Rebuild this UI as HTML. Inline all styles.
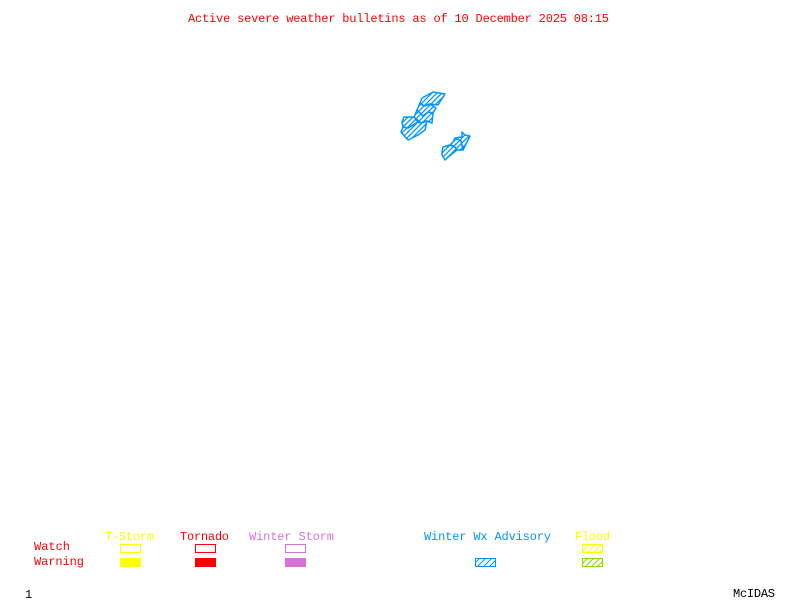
<!DOCTYPE html>
<html>
<head>
<meta charset="utf-8">
<style>
html,body{margin:0;padding:0;background:#fff;}
svg{display:block;}
text{font-family:"Liberation Mono",monospace;font-size:12px;}
</style>
</head>
<body>
<svg width="800" height="600" viewBox="0 0 800 600" xmlns="http://www.w3.org/2000/svg">
<defs>
<pattern id="hb" width="6" height="6" patternUnits="userSpaceOnUse"><path d="M-1 7L7 -1M-1 1L1 -1M5 7L7 5" stroke="#0096ff" stroke-width="1" fill="none"/></pattern>
<pattern id="hb2" width="5" height="5" patternUnits="userSpaceOnUse"><path d="M-1 6L6 -1M-1 1L1 -1M4 6L6 4" stroke="#0096ff" stroke-width="1.3" fill="none"/></pattern>
<pattern id="hy" width="6" height="6" patternUnits="userSpaceOnUse"><path d="M-1 7L7 -1M-1 1L1 -1M5 7L7 5" stroke="#ffff00" stroke-width="1" fill="none"/></pattern>
<pattern id="hg" width="6" height="6" patternUnits="userSpaceOnUse"><path d="M-1 7L7 -1M-1 1L1 -1M5 7L7 5" stroke="#7fdc00" stroke-width="1" fill="none"/></pattern>
</defs>
<rect width="800" height="600" fill="#fff"/>

<text x="188" y="22" fill="#ff0000" textLength="421" lengthAdjust="spacing">Active severe weather bulletins as of 10 December 2025 08:15</text>

<g fill="url(#hb2)" stroke="#0096ff" stroke-width="1.5" stroke-linejoin="round">
<path d="M422 98L433 92L445 94L438 105L430 104L424 106L420 103Z"/>
<path d="M417 110L420 103L424 106L430 104L436 108L433 113L428 112L423 116Z"/>
<path d="M414 117L417 110L423 116L428 112L433 113L432 123L427 121L421 123Z"/>
<path d="M404 117L414 117L418 122L413 125L408 128L403 127L402 122Z"/>
<path d="M403 127L408 128L413 125L418 122L421 123L427 121L425 130L418 135L408 140L401 132Z"/>
<path d="M442 155L442 152L443 147L450 145L455 147L457 150L448 157L445 160Z"/>
<path d="M450 145L453 142L455 138L461 141L463 150L457 150L454 146Z"/>
<path d="M455 138L462 137L462 132L465 135L470 136L467 142L463 150L461 141Z"/>
</g>

<text x="105" y="540" fill="#ffff00" textLength="49" lengthAdjust="spacing">T-Storm</text>
<text x="180" y="540" fill="#ff0000" textLength="49" lengthAdjust="spacing">Tornado</text>
<text x="249" y="540" fill="#da70d6" textLength="85" lengthAdjust="spacing">Winter Storm</text>
<text x="424" y="540" fill="#0096ff" textLength="127" lengthAdjust="spacing">Winter Wx Advisory</text>
<text x="575" y="540" fill="#ffff00" textLength="35" lengthAdjust="spacing">Flood</text>
<text x="34" y="550" fill="#ff0000" textLength="36" lengthAdjust="spacing">Watch</text>
<text x="34" y="565" fill="#ff0000" textLength="50" lengthAdjust="spacing">Warning</text>

<g shape-rendering="crispEdges">
<rect x="120.5" y="544.5" width="20" height="8" fill="none" stroke="#ffff00"/>
<rect x="195.5" y="544.5" width="20" height="8" fill="none" stroke="#ff0000"/>
<rect x="285.5" y="544.5" width="20" height="8" fill="none" stroke="#da70d6"/>
<rect x="120" y="558" width="21" height="9" fill="#ffff00"/>
<rect x="195" y="558" width="21" height="9" fill="#ff0000"/>
<rect x="285" y="558" width="21" height="9" fill="#da70d6"/>
</g>
<rect x="475.5" y="558.5" width="20" height="8" fill="url(#hb)" stroke="#0096ff"/>
<rect x="582.5" y="544.5" width="20" height="8" fill="url(#hy)" stroke="#ffff00"/>
<rect x="582.5" y="558.5" width="20" height="8" fill="url(#hg)" stroke="#7fdc00"/>

<text x="25" y="598" fill="#000">1</text>
<text x="733" y="597" fill="#000" textLength="42" lengthAdjust="spacing">McIDAS</text>
</svg>
</body>
</html>
